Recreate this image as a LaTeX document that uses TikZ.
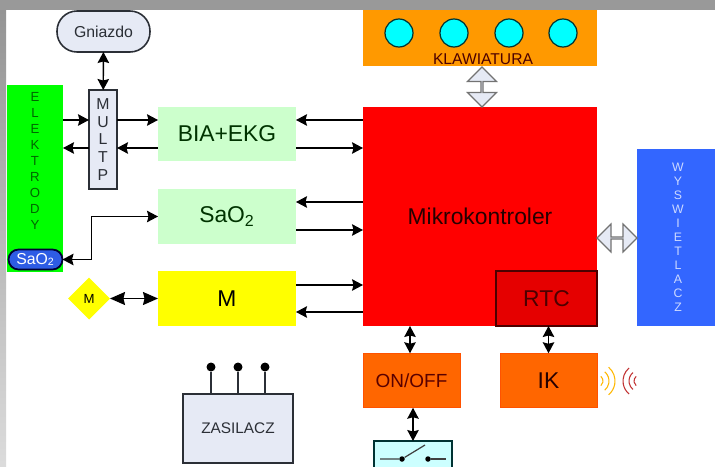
\documentclass[tikz,border=0pt]{standalone}
\usepackage{fontspec}
\setmainfont{Liberation Sans}
\usepackage{tikz}
\usetikzlibrary{positioning, arrows.meta, calc, shapes.geometric, shapes.arrows}
\definecolor{panel}{HTML}{E6EAF5}
\definecolor{edge}{HTML}{2B2F36}
\definecolor{mint}{HTML}{CCFFCC}
\definecolor{amber}{HTML}{FF9900}
\definecolor{tangerine}{HTML}{FF6600}
\definecolor{royal}{HTML}{3366FF}
\definecolor{keycyan}{HTML}{00FFFF}
\definecolor{paleblue}{HTML}{CCFFFF}
\definecolor{lemon}{HTML}{FFFF00}
\tikzset{
  block/.style={minimum width=2.76cm, minimum height=1.09cm, inner sep=0pt, outer sep=0pt, font=\fontsize{13}{15}\selectfont},
  sensorblock/.style={block, fill=mint, text=black!80!green},
  darkbox/.style={draw=edge, line width=0.9pt, fill=panel, inner sep=0pt, outer sep=0pt, text=edge},
  orangebox/.style={block, minimum width=1.94cm, fill=tangerine, draw=tangerine!80!red, line width=0.3pt},
  letters/.style={align=center, inner sep=0pt},
  wire/.style={<->, >={Stealth[length=0.22cm, width=0.23cm, inset=0.03cm]}, line width=0.8pt, black},
  oneway/.style={wire, <-},
  fatarrow/.style={double arrow, draw=black!55, fill=panel, line width=0.7pt, inner sep=0pt, outer sep=0pt},
  irwave/.style={line width=0.6pt}
}

\begin{document}
\begin{tikzpicture}[x=0.02cm, y=-0.02cm]
    \useasboundingbox (0,0) rectangle (715,466);
    \clip (0,0) rectangle (715,466);
    \fill[white] (0,0) rectangle (715,466);
    \shade[top color=black!42, bottom color=black!14] (0,10) rectangle (6,466);
    \fill[black!40] (0,0) rectangle (715,10);
    %% rows of the parallel wires
    \coordinate (rowA) at (0,120);
    \coordinate (rowB) at (0,148);
    \coordinate (rowC) at (0,202);
    \coordinate (rowD) at (0,230);
    \coordinate (rowE) at (0,285);
    \coordinate (rowF) at (0,312);
    \node[darkbox, rounded corners=0.4cm, minimum width=1.86cm, minimum height=0.82cm, font=\fontsize{9}{11}\selectfont] (gniazdo) at (103.5,31.5) {Gniazdo};
    \node[darkbox, minimum width=0.56cm, minimum height=1.98cm, letters, font=\fontsize{9}{10.2}\selectfont] (multp) at (103,139.5) {M\\U\\L\\T\\P};
    \node[fill=green, minimum width=1.12cm, minimum height=3.74cm, inner sep=0pt, outer sep=0pt] (elektrody) at (35,178.5) {};
    \node[letters, text=black!60!green, font=\fontsize{7.5}{9.07}\selectfont] (elektrodytxt) at (35,161) {E\\L\\E\\K\\T\\R\\O\\D\\Y};
    \node[draw=black!80!blue, line width=1pt, fill=royal!90!black, rounded corners=0.2cm, minimum width=1.08cm, minimum height=0.4cm, inner sep=0pt, outer sep=0pt, text=white, font=\fontsize{9}{11}\selectfont] (pulsox) at (35.5,259.5) {SaO\textsubscript{2}};
    \node[sensorblock] (bia) at (227,134) {BIA+EKG};
    \node[sensorblock] (sao) at (227,216.5) {SaO\textsubscript{2}};
    \node[block, fill=lemon] (pomiar) at (227,298.5) {M};
    \node[diamond, fill=lemon, minimum width=0.84cm, minimum height=0.84cm, inner sep=0pt, outer sep=0pt, font=\fontsize{7.5}{9}\selectfont] (silnik) at (89,298.5) {M};
    \node[block, fill=red, minimum width=4.68cm, minimum height=4.38cm, text=black!85!red] (mikro) at (480,216.5) {Mikrokontroler};
    \node[block, fill=red!90!black, draw=black!70!red, line width=0.9pt, minimum width=2.02cm, minimum height=1.1cm, text=black!70!red] (rtc) at (546.5,298.5) {RTC};
    \node[fill=amber, minimum width=4.68cm, minimum height=1.12cm, inner sep=0pt, outer sep=0pt] (klawiatura) at (480,38) {};
    \foreach \kx in {399,454,509,563}
      \node[circle, draw=black!60!teal, line width=0.7pt, fill=keycyan, minimum size=0.56cm, inner sep=0pt] (key\kx) at (\kx,33) {};
    \node[text=black!70!red, inner sep=0pt, font=\fontsize{8.9}{10}\selectfont] (klawiaturatxt) at (483,59) {KLAWIATURA};
    \node[fill=royal, minimum width=1.64cm, minimum height=3.54cm, inner sep=0pt, outer sep=0pt, letters, text=white!75!royal, font=\fontsize{7}{7.95}\selectfont] (wyswietlacz) at (678,237.5) {W\\Y\\S\\W\\I\\E\\T\\L\\A\\C\\Z};
    \node[orangebox, text=black!65!red, font=\fontsize{10.8}{13}\selectfont] (onoff) at (411.5,380.5) {ON/OFF};
    \node[orangebox, text=black!85!red] (ik) at (548.5,380.5) {IK};
    \node[darkbox, minimum width=2.2cm, minimum height=1.38cm, font=\fontsize{8.75}{10}\selectfont] (zasilacz) at (238,428.5) {ZASILACZ};
    \node[draw=black!60!teal, line width=0.9pt, fill=paleblue, minimum width=1.56cm, minimum height=1.2cm, inner sep=0pt, outer sep=0pt] (wylacznik) at (413,471) {};
    %% pins of the supply
    \foreach \i/\dx in {a/-27,b/0,c/27} {
      \node[circle, fill=black, minimum size=0.18cm, inner sep=0pt] (pin\i) at ($(zasilacz.north)+(\dx,-27)$) {};
      \draw[line width=0.7pt, edge] (pin\i) -- (pin\i |- zasilacz.north);
    }
    %% the switch
    \node[circle, fill=black, minimum size=0.11cm, inner sep=0pt] (swa) at (402,459) {};
    \node[circle, fill=black, minimum size=0.11cm, inner sep=0pt] (swb) at (428,459) {};
    \coordinate (swl) at (380,459);
    \coordinate (swr) at (446,459);
    \coordinate (swt) at (425,445);
    \draw[line width=0.7pt, black!75] (swl) -- (swa) -- (swt);
    \draw[line width=0.7pt, black!75] (swb) -- (swr);
    %% wires
    \draw[wire] (gniazdo) -- (multp);
    \draw[oneway] (multp.west |- rowA) -- (elektrody.east |- rowA);
    \draw[oneway] (bia.west |- rowA) -- (multp.east |- rowA);
    \draw[oneway] (multp.east |- rowB) -- (bia.west |- rowB);
    \draw[oneway] (elektrody.east |- rowB) -- (multp.west |- rowB);
    \draw[oneway] (bia.east |- rowA) -- (mikro.west |- rowA);
    \draw[oneway] (mikro.west |- rowB) -- (bia.east |- rowB);
    \draw[oneway] (sao.east |- rowC) -- (mikro.west |- rowC);
    \draw[oneway] (mikro.west |- rowD) -- (sao.east |- rowD);
    \draw[oneway] (mikro.west |- rowE) -- (pomiar.east |- rowE);
    \draw[oneway] (pomiar.east |- rowF) -- (mikro.west |- rowF);
    \draw[wire] (pulsox.east) -- ++(29,0) |- (sao.west);
    \draw[wire, >={Stealth[length=0.3cm, width=0.26cm, inset=0.03cm]}] (silnik.east) -- (pomiar.west);
    \draw[wire] (onoff.north -| 410,0) -- (mikro.south -| 410,0);
    \draw[wire] (ik.north) -- (rtc.south -| ik.north);
    \draw[wire] (onoff.south -| wylacznik.north) -- (wylacznik.north);
    %% wide buses
    \node[fatarrow, minimum width=0.58cm, minimum height=0.8cm, double arrow head extend=0.16cm, shape border rotate=90] (buskey) at (482,87) {};
    \node[fatarrow, minimum width=0.56cm, minimum height=0.8cm, double arrow head extend=0.18cm] (buslcd) at (617,238) {};
    %% infrared
    \coordinate (irout) at (597,381);
    \coordinate (irin) at (640,381);
    \foreach \r in {6,12,18}
      \draw[irwave, amber!70!yellow] ($(irout)+({\r*cos(50)},{-\r*sin(50)})$) arc[start angle=-50, end angle=50, radius=\r];
    \foreach \r in {6,11,17}
      \draw[irwave, red!70!black!80!white] ($(irin)+({-\r*cos(50)},{-\r*sin(50)})$) arc[start angle=230, end angle=130, radius=\r];
  \end{tikzpicture}
\end{document}
